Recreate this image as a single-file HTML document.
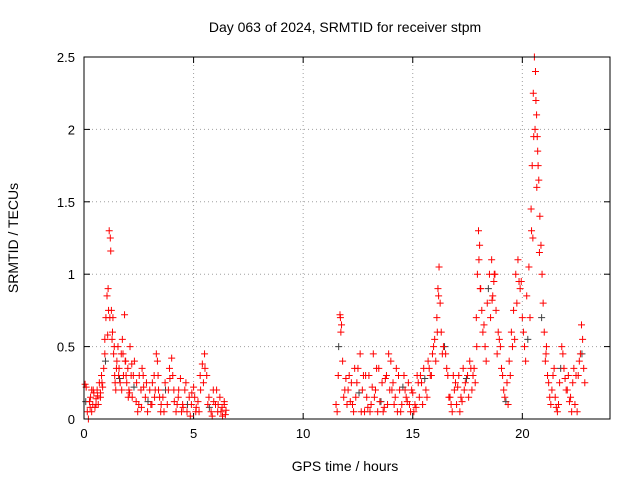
<!DOCTYPE html>
<html><head><meta charset="utf-8"><style>
html,body{margin:0;padding:0;background:#fff;}
svg{display:block;font-family:"Liberation Sans",sans-serif;}
</style></head><body>
<svg id="chart" width="640" height="480" viewBox="0 0 640 480">
<rect x="0" y="0" width="640" height="480" fill="#fff"/>
<text x="345" y="32" font-size="14" text-anchor="middle" fill="#000">Day 063 of 2024, SRMTID for receiver stpm</text>
<text x="345" y="471" font-size="14" text-anchor="middle" fill="#000">GPS time / hours</text>
<text transform="translate(18,238) rotate(-90)" font-size="14" text-anchor="middle" fill="#000">SRMTID / TECUs</text>
<g id="grid"></g><g id="ticks"></g><g id="marks"></g>
<rect x="84" y="57" width="526" height="362" fill="none" stroke="#000" stroke-width="1"/>
</svg>
<script>
const xTicks = [0, 5, 10, 15, 20];
const yTicks = [0, 0.5, 1, 1.5, 2, 2.5];
const yTickLabels = ["0", "0.5", "1", "1.5", "2", "2.5"];
const hours = [0.05,0.1,0.2,0.25,0.3,0.35,0.4,0.45,0.5,0.55,0.6,0.65,0.7,0.75,0.8,0.85,0.9,0.95,1.0,1.05,1.1,1.15,1.2,1.22,1.25,1.3,1.35,1.4,1.45,1.5,1.55,1.6,1.65,1.7,1.75,1.8,1.85,1.9,1.95,2.0,2.05,2.1,2.15,2.2,2.3,2.4,2.5,2.6,2.7,2.8,2.9,3.0,3.1,3.2,3.3,3.35,3.4,3.5,3.6,3.7,3.8,3.9,4.0,4.1,4.2,4.3,4.4,4.5,4.6,4.7,4.8,4.9,5.0,5.1,5.2,5.3,5.4,5.5,5.6,5.7,5.8,5.9,6.0,6.1,6.2,6.3,6.4,6.45,
11.5,11.6,11.7,11.75,11.8,11.9,12.0,12.1,12.2,12.3,12.4,12.5,12.6,12.7,12.8,12.9,13.0,13.1,13.2,13.3,13.4,13.5,13.6,13.7,13.8,13.9,14.0,14.1,14.2,14.3,14.4,14.5,14.6,14.7,14.8,14.9,15.0,15.1,15.2,15.3,15.4,15.5,15.6,15.7,15.8,15.9,16.0,16.1,16.15,16.2,16.3,16.4,16.5,16.6,16.7,16.8,16.9,17.0,17.1,17.2,17.3,17.4,17.5,17.6,17.7,17.8,17.9,17.95,18.0,18.05,18.1,18.2,18.3,18.4,18.5,18.6,18.7,18.8,18.9,19.0,19.1,19.2,19.3,19.4,19.5,19.6,19.7,19.8,19.9,20.0,20.1,20.2,20.3,20.4,20.45,20.5,20.55,20.6,20.65,20.7,20.75,20.8,20.9,21.0,21.1,21.2,21.3,21.4,21.5,21.6,21.7,21.8,21.9,22.0,22.1,22.2,22.3,22.4,22.5,22.6,22.7,22.75,22.8];
const srmtid = [0.24,0.22,0.0,0.12,0.15,0.05,0.1,0.18,0.08,0.14,0.2,0.1,0.25,0.15,0.3,0.22,0.35,0.55,0.7,0.85,0.9,1.3,1.25,1.16,0.75,0.6,0.45,0.3,0.2,0.4,0.5,0.35,0.25,0.45,0.55,0.3,0.72,0.4,0.25,0.35,0.2,0.5,0.3,0.15,0.4,0.25,0.1,0.2,0.3,0.15,0.05,0.2,0.1,0.3,0.45,0.4,0.2,0.05,0.15,0.25,0.1,0.35,0.42,0.2,0.05,0.15,0.28,0.1,0.2,0.05,0.15,0.1,0.22,0.05,0.12,0.3,0.38,0.45,0.3,0.15,0.05,0.2,0.1,0.05,0.15,0.08,0.12,0.03,
0.1,0.3,0.7,0.65,0.4,0.2,0.1,0.3,0.25,0.05,0.15,0.35,0.45,0.2,0.05,0.15,0.3,0.1,0.45,0.2,0.05,0.12,0.25,0.08,0.3,0.45,0.4,0.25,0.15,0.05,0.2,0.1,0.3,0.15,0.25,0.05,0.18,0.1,0.3,0.15,0.25,0.35,0.2,0.4,0.3,0.45,0.55,0.7,0.9,1.05,0.6,0.5,0.45,0.3,0.15,0.05,0.2,0.1,0.3,0.15,0.35,0.25,0.3,0.4,0.2,0.35,0.7,1.0,1.3,1.2,0.9,0.6,0.5,0.8,1.0,1.1,0.95,0.75,0.6,0.5,0.3,0.15,0.25,0.4,0.6,0.75,1.0,1.1,0.9,0.7,0.5,0.85,1.05,1.45,1.75,2.25,2.5,2.4,2.1,1.85,1.65,1.4,1.0,0.6,0.5,0.25,0.1,0.3,0.15,0.05,0.25,0.5,0.35,0.2,0.3,0.15,0.25,0.1,0.05,0.4,0.65,0.55,0.35];
const hours2 = [0.15,0.35,0.55,0.75,0.95,1.12,1.18,1.28,1.42,1.58,1.72,1.88,2.02,2.25,2.45,2.65,2.85,3.05,3.25,3.45,3.65,3.85,4.05,4.25,4.45,4.65,4.85,5.05,5.25,5.45,5.65,5.85,6.05,6.25,6.4,
11.55,11.72,11.85,12.05,12.25,12.45,12.65,12.85,13.05,13.25,13.45,13.65,13.85,14.05,14.25,14.45,14.65,14.85,15.05,15.25,15.45,15.65,15.85,16.05,16.18,16.35,16.55,16.75,16.95,17.15,17.35,17.55,17.75,17.92,18.02,18.15,18.35,18.55,18.65,18.75,18.95,19.15,19.35,19.55,19.75,19.95,20.15,20.35,20.48,20.58,20.62,20.68,20.72,20.85,20.95,21.05,21.25,21.45,21.65,21.85,22.05,22.25,22.45,22.65,22.85];
const srmtid2 = [0.05,0.2,0.1,0.18,0.45,0.75,0.7,0.55,0.25,0.3,0.2,0.4,0.15,0.3,0.05,0.35,0.25,0.1,0.2,0.15,0.05,0.2,0.3,0.1,0.05,0.25,0.02,0.15,0.05,0.25,0.1,0.02,0.2,0.05,0.1,
0.05,0.6,0.15,0.2,0.1,0.25,0.05,0.3,0.05,0.15,0.35,0.05,0.1,0.2,0.35,0.05,0.2,0.1,0.05,0.25,0.1,0.15,0.3,0.4,0.85,0.45,0.35,0.1,0.25,0.05,0.2,0.15,0.3,0.5,1.1,0.75,0.4,0.7,0.85,1.0,0.55,0.2,0.1,0.5,0.8,0.95,0.4,0.7,1.25,2.0,2.2,1.95,1.75,1.2,0.8,0.4,0.15,0.35,0.1,0.45,0.2,0.05,0.3,0.45,0.25];
const hours3 = [0.08,0.28,0.42,0.62,0.82,0.98,1.08,1.32,1.38,1.48,1.62,1.78,1.92,2.08,2.18,2.28,2.38,2.52,2.62,2.72,2.92,3.12,3.22,3.38,3.52,3.72,3.92,4.12,4.32,4.52,4.72,4.92,5.12,5.32,5.52,5.72,5.92,6.12,6.32,6.48,
11.62,11.68,11.95,12.15,12.35,12.55,12.75,12.95,13.15,13.35,13.55,13.75,13.95,14.15,14.35,14.55,14.75,14.95,15.15,15.35,15.55,15.75,15.95,16.12,16.25,16.45,16.65,16.85,17.05,17.25,17.45,17.65,17.85,18.08,18.25,18.45,18.62,18.72,18.85,19.05,19.25,19.45,19.65,19.85,20.05,20.25,20.42,20.52,20.66,20.78,20.88,21.08,21.15,21.35,21.55,21.75,21.95,22.15,22.35,22.55,22.72];
const srmtid3 = [0.12,0.08,0.2,0.16,0.25,0.4,0.58,0.7,0.5,0.35,0.28,0.45,0.3,0.18,0.38,0.22,0.12,0.3,0.08,0.22,0.12,0.25,0.15,0.3,0.1,0.2,0.28,0.12,0.2,0.08,0.1,0.18,0.08,0.2,0.35,0.08,0.12,0.1,0.02,0.06,
0.5,0.72,0.28,0.12,0.35,0.18,0.3,0.08,0.22,0.35,0.12,0.28,0.2,0.1,0.3,0.22,0.12,0.2,0.08,0.3,0.28,0.35,0.5,0.6,0.8,0.5,0.15,0.3,0.22,0.12,0.28,0.35,0.25,0.9,0.65,0.9,0.82,1.0,0.45,0.35,0.12,0.3,0.55,0.95,0.6,0.55,1.3,1.95,1.6,1.15,0.7,0.45,0.3,0.2,0.08,0.35,0.28,0.12,0.35,0.3,0.45];
const X0=84, X1=610, Y0=419, Y1=57, XMAX=24, YMAX=2.5;
const xs = v => X0 + v/XMAX*(X1-X0);
const ys = v => Y0 - v/YMAX*(Y0-Y1);
const NS="http://www.w3.org/2000/svg";
const grid=document.getElementById('grid'), ticks=document.getElementById('ticks'), marks=document.getElementById('marks');
function mk(tag, attrs, parent){const e=document.createElementNS(NS,tag);for(const k in attrs)e.setAttribute(k,attrs[k]);parent.appendChild(e);return e;}
xTicks.forEach(t=>{
  const x=xs(t);
  if(t>0){const g=mk('line',{x1:x,y1:Y1,x2:x,y2:Y0,stroke:'#a0a0a0','stroke-dasharray':'1,3'},grid);
  
  }
  mk('line',{x1:x,y1:Y0,x2:x,y2:Y0-6,stroke:'#000'},ticks);
  mk('line',{x1:x,y1:Y1,x2:x,y2:Y1+6,stroke:'#000'},ticks);
  const l=mk('text',{x:x,y:Y0+19,'font-size':13,'text-anchor':'middle'},ticks);
  l.textContent=String(t);
  
  
});
yTicks.forEach((t,i)=>{
  const y=ys(t);
  if(t>0&&t<YMAX){const g=mk('line',{x1:X0,y1:y,x2:X1,y2:y,stroke:'#a0a0a0','stroke-dasharray':'1,3'},grid);
  
  }
  mk('line',{x1:X0,y1:y,x2:X0+6,y2:y,stroke:'#000'},ticks);
  mk('line',{x1:X1,y1:y,x2:X1-6,y2:y,stroke:'#000'},ticks);
  const l=mk('text',{x:X0-9,y:y+5,'font-size':13,'text-anchor':'end'},ticks);
  l.textContent=yTickLabels[i];
  
  
});
function plus(h,v,color){
  const x=xs(h), y=ys(v);
  const p=mk('path',{d:`M${x-3.5},${y}H${x+3.5}M${x},${y-3.5}V${y+3.5}`,stroke:color,'stroke-width':1,fill:'none'},marks);
  
  
}
const n3=Math.min(hours3.length,srmtid3.length);
for(let i=0;i<n3;i++) plus(hours3[i],srmtid3[i],(i%5===0)?'#404040':'#ff0000');
const n2=Math.min(hours2.length,srmtid2.length);
for(let i=0;i<n2;i++) plus(hours2[i],srmtid2[i],'#ff0000');
const n=Math.min(hours.length,srmtid.length);
for(let i=0;i<n;i++) plus(hours[i],srmtid[i],'#ff0000');
</script>
</body></html>
